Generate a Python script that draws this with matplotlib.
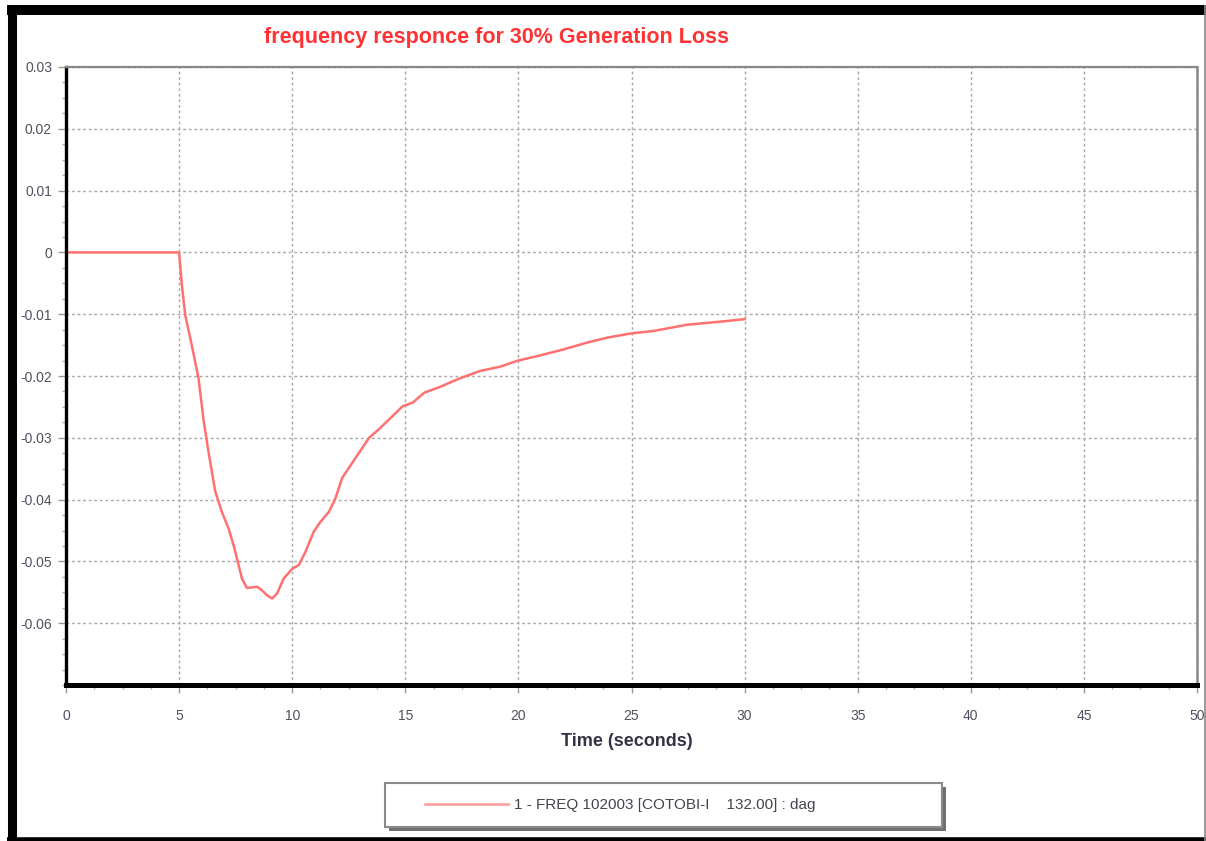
import matplotlib
matplotlib.use("Agg")
import matplotlib.pyplot as plt
from matplotlib.lines import Line2D
from matplotlib.patches import Rectangle
from matplotlib.ticker import MultipleLocator, AutoMinorLocator

plt.rcParams['font.family'] = ['Liberation Sans', 'DejaVu Sans']

# Frequency deviation (time in s, deviation in pu)
time_s = [0, 5.0, 5.12, 5.27, 5.57, 5.86, 6.08, 6.30, 6.60, 6.89, 7.19, 7.41, 7.63,
          7.78, 8.0, 8.45, 8.67, 8.89, 9.11, 9.33, 9.62, 10.0, 10.29, 10.58, 10.95,
          11.25, 11.62, 11.91, 12.21, 12.81, 13.40, 13.84, 14.29, 14.88, 15.33,
          15.84, 16.51, 17.40, 18.29, 19.18, 19.99, 20.81, 22.0, 23.03, 23.92,
          25.0, 25.99, 27.47, 28.96, 30.0]
freq_dev = [0, 0, -0.0052, -0.0101, -0.0152, -0.0204, -0.0271, -0.0323, -0.0387,
            -0.0420, -0.0447, -0.0474, -0.0506, -0.0528, -0.0543, -0.0541, -0.0547,
            -0.0555, -0.0560, -0.0552, -0.0528, -0.0512, -0.0506, -0.0485, -0.0452,
            -0.0436, -0.0420, -0.0398, -0.0365, -0.0332, -0.0300, -0.0286, -0.0270,
            -0.0249, -0.0243, -0.0227, -0.0218, -0.0204, -0.0192, -0.0185, -0.0175,
            -0.0168, -0.0157, -0.0146, -0.0138, -0.0131, -0.0127, -0.0117, -0.0112,
            -0.0108]
series_label = "1 - FREQ 102003 [COTOBI-I    132.00] : dag"

W, H = 1206, 841
fig = plt.figure(figsize=(W / 100, H / 100), dpi=100)
fig.patch.set_facecolor('white')

# axes placed by pixel edges
L, R, T, B = 66, 1197, 67, 685
ax = fig.add_axes([L / W, 1 - B / H, (R - L) / W, (B - T) / H])

line_color = '#ff7070'
ax.plot(time_s, freq_dev, color=line_color, lw=1.8, label=series_label)

ax.set_xlim(0, 50)
ax.set_ylim(-0.07, 0.03)
ax.xaxis.set_major_locator(MultipleLocator(5))
ax.yaxis.set_major_locator(MultipleLocator(0.01))
ax.xaxis.set_minor_locator(AutoMinorLocator(4))
ax.yaxis.set_minor_locator(AutoMinorLocator(4))
ax.set_yticks([0.03, 0.02, 0.01, 0, -0.01, -0.02, -0.03, -0.04, -0.05, -0.06])
ax.set_yticklabels(['0.03', '0.02', '0.01', '0', '-0.01', '-0.02', '-0.03',
                    '-0.04', '-0.05', '-0.06'])

ax.grid(True, which='major', color='#a8a8a8', linestyle=(0, (2, 2)), lw=1)
ax.tick_params(which='major', direction='out', length=6, width=1, color='#999999',
               labelsize=10, labelcolor='#505060')
ax.tick_params(axis='y', which='major', pad=4)
ax.tick_params(axis='x', which='major', pad=11)
ax.tick_params(which='minor', direction='out', length=3, width=1, color='#aaaaaa')

ax.spines['left'].set_color('black')
ax.spines['left'].set_linewidth(2.4)
ax.spines['bottom'].set_color('black')
ax.spines['bottom'].set_linewidth(3.6)
ax.spines['top'].set_color('#888888')
ax.spines['top'].set_linewidth(1.6)
ax.spines['right'].set_color('#888888')
ax.spines['right'].set_linewidth(1.8)

ax.set_xlabel('Time (seconds)', fontsize=13, fontweight='bold', color='#333344',
              va='center')
ax.xaxis.set_label_coords(0.496, -(742 - B) / (B - T))

fig.text(497 / W, 1 - 38 / H, 'frequency responce for 30% Generation Loss',
         ha='center', va='center', fontsize=15.5, fontweight='bold', color='#ff3333')

# legend box with shadow
fig.add_artist(Rectangle((389 / W, 1 - 831 / H), (942 - 385) / W, (827 - 783) / H,
                         transform=fig.transFigure, facecolor='#707070',
                         edgecolor='none', zorder=1))
fig.add_artist(Rectangle((385 / W, 1 - 827 / H), (942 - 385) / W, (827 - 783) / H,
                         transform=fig.transFigure, facecolor='white',
                         edgecolor='#8a8a8a', lw=1.5, zorder=2))
handles, labels = ax.get_legend_handles_labels()
leg = fig.legend(handles, labels, loc='center left',
                 bbox_to_anchor=(425 / W, 1 - 805 / H),
                 bbox_transform=fig.transFigure, frameon=False, fontsize=11,
                 handlelength=5.4, handletextpad=0.45, borderpad=0, borderaxespad=0)
leg.set_zorder(3)
for txt in leg.get_texts():
    txt.set_color('#444450')
for hl in leg.get_lines():
    hl.set_color('#ff9a9a')

# outer window frame
def px_line(xs, ys, lw, color):
    fig.add_artist(Line2D([x / W for x in xs], [1 - y / H for y in ys],
                          transform=fig.transFigure, color=color, lw=lw,
                          solid_capstyle='butt'))

px_line([11.5, 11.5], [5, 841], 6.5, 'black')
px_line([7, 1206], [10, 10], 7.2, 'black')
px_line([7, 1206], [840, 840], 4.0, 'black')
px_line([1204.5, 1204.5], [5, 841], 1.2, '#888888')

fig.savefig('out.png', dpi=100)
